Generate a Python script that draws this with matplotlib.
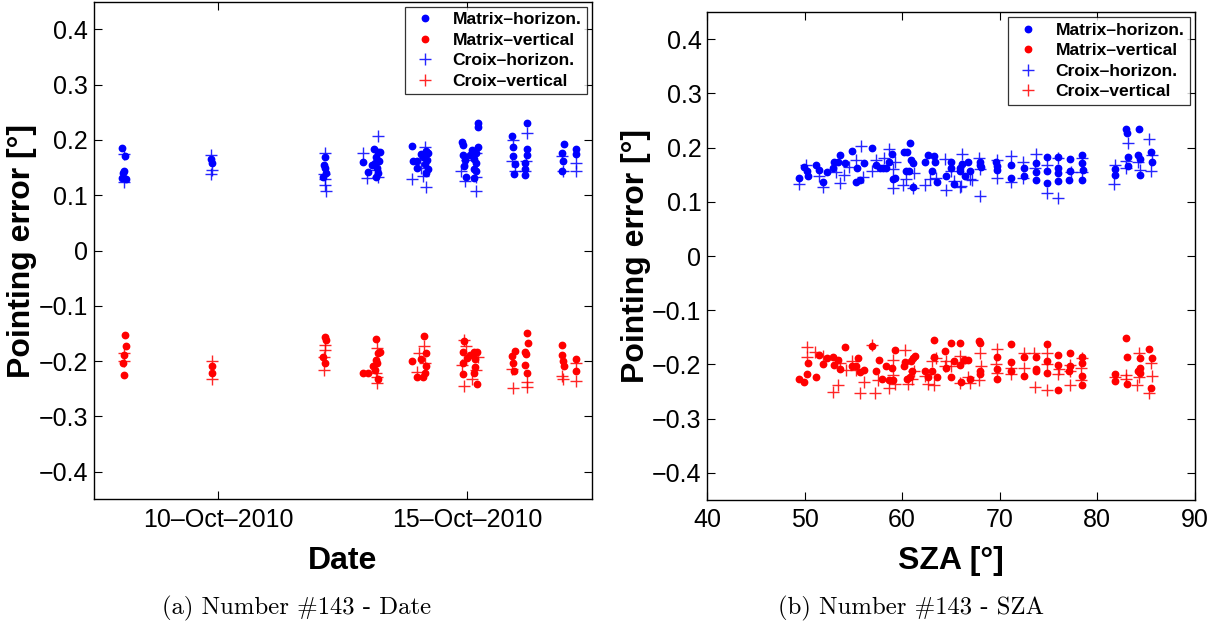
from datetime import datetime

import numpy as np
import matplotlib
matplotlib.use("Agg")
import matplotlib.pyplot as plt
import matplotlib.dates as mdates

plt.rcParams['font.family'] = ['Liberation Sans', 'DejaVu Sans']

# ---- panel (a): pointing error vs date (day of October 2010) ----
mh_day = [8.07, 8.13, 8.11, 8.09, 8.07, 8.14, 9.85, 9.87, 12.14, 12.13, 12.14, 12.16, 12.10,
          12.91, 13.01, 13.12, 13.21, 13.16, 13.15, 13.19, 13.21, 13.17, 13.09, 13.23, 13.24,
          13.90, 13.91, 13.99, 14.07, 14.11, 14.18, 14.22, 14.19, 14.16, 14.22, 14.18, 13.99,
          14.90, 14.91, 14.91, 14.95, 14.94, 14.97, 15.05, 15.10, 15.14, 15.13, 15.14, 15.21,
          15.21, 15.21, 15.18, 15.18, 15.17, 15.89, 15.91, 15.92, 15.95, 15.94, 16.20, 16.19,
          16.19, 16.16, 16.16, 16.15, 16.94, 16.91, 16.92, 16.91, 17.18, 17.18]
mh_err = [0.185, 0.171, 0.144, 0.140, 0.131, 0.129, 0.165, 0.158, 0.170, 0.155, 0.150, 0.141, 0.133,
          0.160, 0.142, 0.184, 0.179, 0.170, 0.158, 0.150, 0.140, 0.133, 0.155, 0.162, 0.179,
          0.189, 0.161, 0.161, 0.175, 0.170, 0.180, 0.177, 0.164, 0.156, 0.147, 0.140, 0.150,
          0.196, 0.191, 0.172, 0.164, 0.152, 0.133, 0.172, 0.182, 0.165, 0.148, 0.131, 0.230,
          0.224, 0.188, 0.176, 0.158, 0.143, 0.207, 0.188, 0.171, 0.156, 0.138, 0.231, 0.183,
          0.172, 0.158, 0.148, 0.137, 0.193, 0.176, 0.162, 0.144, 0.183, 0.175]

mv_day = [8.13, 8.14, 8.11, 8.09, 8.11, 9.87, 9.87, 12.14, 12.16, 12.10, 12.14, 12.91, 13.01,
          13.16, 13.21, 13.16, 13.19, 13.11, 13.15, 13.21, 13.24, 14.14, 14.18, 13.90, 14.07,
          14.18, 14.15, 13.99, 14.11, 14.94, 14.92, 14.99, 14.91, 14.91, 15.05, 15.13, 15.20,
          15.16, 15.16, 15.13, 15.20, 15.89, 15.96, 15.92, 15.94, 16.20, 16.21, 16.15, 16.17,
          16.16, 16.19, 16.90, 16.91, 16.92, 16.94, 17.18, 17.19]
mv_err = [-0.152, -0.173, -0.188, -0.204, -0.225, -0.208, -0.221, -0.156, -0.162, -0.193, -0.204, -0.222, -0.222,
          -0.160, -0.185, -0.198, -0.204, -0.209, -0.216, -0.233, -0.184, -0.155, -0.186, -0.199, -0.197,
          -0.209, -0.222, -0.229, -0.229, -0.164, -0.184, -0.194, -0.204, -0.223, -0.188, -0.184, -0.184,
          -0.197, -0.210, -0.222, -0.241, -0.190, -0.181, -0.203, -0.218, -0.149, -0.168, -0.184, -0.187,
          -0.207, -0.222, -0.171, -0.188, -0.199, -0.208, -0.196, -0.218]

ch_day = [8.11, 8.10, 9.85, 9.87, 9.85, 12.14, 12.13, 12.14, 12.14, 12.16, 12.91, 12.99, 13.20,
          13.15, 13.21, 13.90, 14.15, 14.07, 14.12, 14.18, 14.87, 14.95, 14.99, 15.17, 15.17,
          15.18, 15.92, 15.89, 15.95, 16.20, 16.17, 16.16, 16.90, 16.92, 17.18, 17.19]
ch_err = [0.175, 0.124, 0.173, 0.146, 0.138, 0.177, 0.138, 0.129, 0.118, 0.108, 0.177, 0.132, 0.207,
          0.146, 0.133, 0.129, 0.188, 0.150, 0.135, 0.115, 0.143, 0.126, 0.164, 0.177, 0.133,
          0.107, 0.200, 0.161, 0.143, 0.212, 0.161, 0.143, 0.171, 0.144, 0.158, 0.144]

cv_day = [8.11, 8.11, 9.87, 9.87, 12.14, 12.14, 12.12, 12.13, 13.19, 13.19, 13.18, 13.16, 14.04,
          13.99, 14.14, 14.16, 14.94, 14.97, 14.90, 14.94, 15.10, 15.18, 15.22, 15.89, 15.92,
          16.19, 16.20, 16.90, 16.92, 17.19, 17.19]
cv_err = [-0.186, -0.200, -0.199, -0.232, -0.171, -0.180, -0.192, -0.216, -0.176, -0.228, -0.240, -0.221, -0.186,
          -0.220, -0.173, -0.204, -0.162, -0.173, -0.207, -0.245, -0.232, -0.216, -0.193, -0.214, -0.249,
          -0.237, -0.246, -0.226, -0.232, -0.204, -0.235]

# ---- panel (b): pointing error vs solar zenith angle ----
mh_sza = [49.43, 49.93, 50.24, 50.34, 51.16, 51.46, 51.87, 52.27, 52.88, 52.98, 53.39, 53.59, 54.10,
          54.81, 55.42, 55.31, 55.72, 56.13, 56.94, 57.34, 57.75, 58.05, 58.36, 58.66, 58.97,
          59.07, 59.27, 60.18, 60.49, 60.79, 60.39, 60.89, 61.10, 60.69, 61.10, 62.31, 62.62,
          63.23, 63.33, 63.02, 63.53, 64.44, 65.05, 65.05, 65.36, 65.96, 65.96, 66.17, 66.78,
          66.47, 66.98, 67.99, 67.99, 68.09, 69.61, 69.71, 69.71, 71.14, 71.14, 72.46, 72.46,
          73.67, 73.67, 73.67, 74.89, 74.89, 74.79, 76.00, 76.00, 76.00, 76.00, 77.22, 77.22,
          77.12, 78.44, 78.44, 78.54, 78.44, 81.79, 81.79, 82.90, 83.00, 84.22, 83.10, 83.10,
          84.12, 84.32, 84.42, 85.54, 85.64]
mh_sza_err = [0.143, 0.164, 0.156, 0.147, 0.167, 0.159, 0.136, 0.155, 0.163, 0.174, 0.174, 0.187, 0.171,
              0.194, 0.163, 0.136, 0.140, 0.171, 0.200, 0.168, 0.163, 0.163, 0.163, 0.174, 0.189,
              0.142, 0.144, 0.191, 0.192, 0.209, 0.156, 0.177, 0.171, 0.157, 0.128, 0.173, 0.187,
              0.184, 0.173, 0.157, 0.137, 0.148, 0.174, 0.163, 0.133, 0.162, 0.156, 0.170, 0.174,
              0.147, 0.157, 0.174, 0.167, 0.164, 0.174, 0.166, 0.158, 0.168, 0.143, 0.163, 0.148,
              0.171, 0.155, 0.141, 0.182, 0.157, 0.135, 0.182, 0.162, 0.153, 0.138, 0.178, 0.157,
              0.140, 0.187, 0.171, 0.159, 0.141, 0.161, 0.150, 0.234, 0.226, 0.234, 0.182, 0.166,
              0.186, 0.179, 0.150, 0.191, 0.173]

mv_sza = [49.43, 49.93, 50.24, 50.34, 51.16, 51.46, 51.87, 52.27, 52.88, 52.98, 53.39, 53.59, 54.10,
          54.81, 55.31, 55.51, 55.72, 56.13, 56.94, 57.34, 57.65, 57.95, 58.36, 58.66, 58.97,
          59.07, 59.27, 60.18, 60.28, 60.49, 60.79, 60.89, 61.10, 61.30, 61.00, 62.31, 62.62,
          63.02, 63.23, 63.23, 63.53, 64.34, 64.44, 65.05, 65.05, 65.36, 65.96, 65.96, 66.47,
          66.78, 66.98, 67.89, 67.99, 67.99, 67.99, 66.06, 66.37, 69.71, 69.71, 69.71, 71.14,
          71.14, 71.14, 72.46, 72.46, 73.67, 73.67, 73.67, 74.79, 74.79, 74.79, 76.00, 76.00,
          76.00, 77.22, 77.22, 77.12, 78.44, 78.44, 78.44, 78.44, 81.79, 81.79, 82.90, 83.00,
          83.00, 84.32, 84.32, 84.12, 84.42, 85.33, 85.64, 85.54]
mv_sza_err = [-0.227, -0.233, -0.218, -0.198, -0.224, -0.183, -0.199, -0.188, -0.186, -0.201, -0.191, -0.209, -0.167,
              -0.203, -0.203, -0.188, -0.214, -0.211, -0.166, -0.213, -0.191, -0.227, -0.203, -0.229, -0.206,
              -0.229, -0.174, -0.202, -0.196, -0.226, -0.224, -0.194, -0.188, -0.184, -0.213, -0.212, -0.223,
              -0.213, -0.155, -0.186, -0.224, -0.176, -0.207, -0.160, -0.223, -0.194, -0.160, -0.201, -0.191,
              -0.191, -0.227, -0.156, -0.161, -0.212, -0.217, -0.233, -0.191, -0.187, -0.208, -0.226, -0.162,
              -0.196, -0.213, -0.186, -0.221, -0.186, -0.208, -0.213, -0.162, -0.194, -0.216, -0.183, -0.201,
              -0.248, -0.179, -0.202, -0.213, -0.187, -0.197, -0.222, -0.237, -0.218, -0.231, -0.151, -0.186,
              -0.236, -0.188, -0.206, -0.212, -0.216, -0.171, -0.189, -0.244]

ch_sza = [49.43, 50.14, 51.46, 51.87, 53.19, 53.59, 54.00, 54.60, 55.31, 55.82, 56.02, 56.94, 57.34,
          58.16, 58.66, 59.07, 59.07, 59.27, 60.08, 60.39, 61.10, 61.20, 62.31, 62.82, 63.43,
          64.34, 64.54, 65.05, 65.26, 66.06, 66.17, 66.98, 67.89, 67.99, 67.99, 65.96, 67.18,
          69.71, 69.71, 71.14, 71.14, 72.36, 72.36, 73.67, 73.57, 74.79, 74.79, 76.00, 76.00,
          77.32, 78.44, 78.44, 81.69, 81.79, 83.10, 82.90, 82.90, 84.12, 84.32, 85.33, 85.54, 85.64]
ch_sza_err = [0.133, 0.167, 0.147, 0.127, 0.155, 0.135, 0.150, 0.164, 0.177, 0.202, 0.146, 0.157, 0.177,
              0.181, 0.197, 0.161, 0.125, 0.174, 0.131, 0.142, 0.125, 0.153, 0.131, 0.142, 0.144,
              0.178, 0.121, 0.156, 0.138, 0.130, 0.188, 0.142, 0.181, 0.161, 0.111, 0.128, 0.141,
              0.177, 0.144, 0.184, 0.137, 0.173, 0.143, 0.188, 0.162, 0.167, 0.117, 0.107, 0.181,
              0.155, 0.181, 0.155, 0.133, 0.167, 0.209, 0.176, 0.162, 0.174, 0.158, 0.216, 0.157, 0.186]

cv_sza = [50.24, 50.24, 51.06, 51.87, 53.39, 52.88, 53.59, 54.20, 54.81, 55.31, 55.72, 56.13, 56.94,
          57.24, 57.55, 58.66, 59.07, 59.07, 59.27, 60.28, 60.59, 61.00, 61.20, 62.31, 62.62,
          63.02, 63.23, 63.43, 64.34, 64.54, 65.05, 65.96, 65.96, 66.78, 66.98, 67.99, 68.09,
          67.89, 69.71, 69.61, 69.71, 71.14, 71.14, 72.46, 72.46, 73.47, 73.57, 74.79, 74.89,
          74.89, 76.10, 76.00, 77.22, 77.22, 77.22, 78.34, 78.34, 78.44, 81.79, 82.90, 82.90,
          84.22, 84.22, 84.02, 85.54, 85.64, 85.33]
cv_sza_err = [-0.168, -0.186, -0.177, -0.184, -0.237, -0.250, -0.197, -0.211, -0.194, -0.211, -0.253, -0.233, -0.164,
              -0.252, -0.228, -0.244, -0.192, -0.219, -0.236, -0.173, -0.236, -0.226, -0.213, -0.221, -0.236,
              -0.194, -0.238, -0.189, -0.203, -0.194, -0.203, -0.184, -0.234, -0.223, -0.234, -0.178, -0.203,
              -0.229, -0.171, -0.199, -0.216, -0.207, -0.217, -0.179, -0.206, -0.178, -0.242, -0.179, -0.199,
              -0.248, -0.209, -0.217, -0.201, -0.212, -0.238, -0.206, -0.229, -0.189, -0.224, -0.219, -0.227,
              -0.179, -0.224, -0.238, -0.198, -0.222, -0.252]

labels = ['Matrix\u2013horizon.', 'Matrix\u2013vertical', 'Croix\u2013horizon.', 'Croix\u2013vertical']
yticks = np.round(np.arange(-0.4, 0.41, 0.1), 1)

oct1 = mdates.date2num(datetime(2010, 10, 1))


def to_num(days):
    return oct1 + np.asarray(days) - 1


def draw_series(ax, series):
    for (x, y), color, marker, lab in zip(series, ['b', 'r', 'b', 'r'], ['.', '.', '+', '+'], labels):
        if marker == '.':
            ax.plot(x, y, linestyle='none', marker='o', markersize=4.6, color=color, label=lab)
        else:
            ax.plot(x, y, linestyle='none', marker='+', markersize=8, markeredgewidth=1.0,
                    color=color, alpha=0.85, label=lab)


def style_axes(ax):
    ax.set_ylim(-0.45, 0.45)
    ax.set_yticks(yticks)
    ax.set_yticklabels(['0' if v == 0 else f'{v:g}'.replace('-', '\u2212') for v in yticks])
    ax.tick_params(direction='in', length=6, width=0.8, top=True, right=True, labelsize=18)
    ax.tick_params(axis='x', pad=6)
    ax.tick_params(axis='y', pad=4)
    for sp in ax.spines.values():
        sp.set_linewidth(1.0)
    ax.set_ylabel('Pointing error [°]', fontsize=23, fontweight='bold')
    # anchor is the right-hand edge of the rotated label
    ax.yaxis.set_label_coords(-0.114, 0.5)
    leg = ax.legend(loc='upper right', prop={'weight': 'bold', 'size': 12.6},
                    frameon=True, fancybox=False, borderaxespad=0.3, handletextpad=0.7,
                    labelspacing=0.3, borderpad=0.3, handlelength=1.7, markerscale=1.0)
    leg.get_frame().set_edgecolor('black')
    leg.get_frame().set_linewidth(0.9)


fig = plt.figure(figsize=(12.3, 6.29), dpi=100)

# (a) vs date
ax1 = fig.add_axes([0.0762, 0.206, 0.4049, 0.7914])
draw_series(ax1, [(to_num(mh_day), mh_err), (to_num(mv_day), mv_err),
                  (to_num(ch_day), ch_err), (to_num(cv_day), cv_err)])
ax1.set_xlim(to_num(7.5), to_num(17.5))
ax1.set_xticks([to_num(10), to_num(15)])
ax1.xaxis.set_major_formatter(mdates.DateFormatter('%d\u2013%b\u2013%Y'))
style_axes(ax1)
ax1.set_xlabel('Date', fontsize=23, fontweight='bold', labelpad=10)

# (b) vs SZA
ax2 = fig.add_axes([0.5748, 0.2051, 0.3967, 0.7758])
draw_series(ax2, [(mh_sza, mh_sza_err), (mv_sza, mv_sza_err),
                  (ch_sza, ch_sza_err), (cv_sza, cv_sza_err)])
ax2.set_xlim(40, 90)
ax2.set_xticks(np.arange(40, 91, 10))
style_axes(ax2)
ax2.set_xlabel('SZA [°]', fontsize=23, fontweight='bold', labelpad=10)

# sub-figure captions
fig.text(0.241, 0.033, '(a) Number #143 - Date', ha='center', va='center',
         fontsize=17.8, family='cmr10')
fig.text(0.741, 0.033, '(b) Number #143 - SZA', ha='center', va='center',
         fontsize=17.8, family='cmr10')

fig.savefig('out.png', dpi=100)
